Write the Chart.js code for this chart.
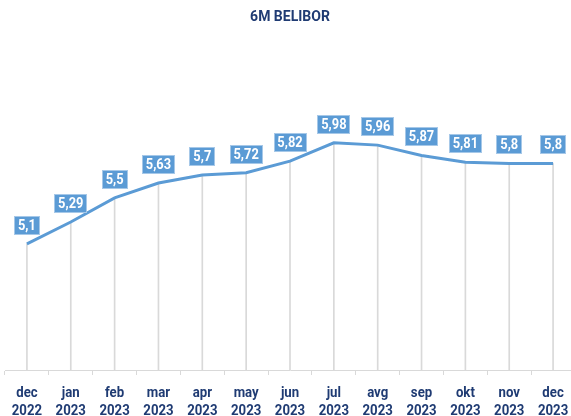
<!DOCTYPE html>
<html>
<head>
<meta charset="utf-8">
<script src="https://cdn.jsdelivr.net/npm/chart.js@4"></script>
<style>
html,body{margin:0;padding:0;overflow:hidden;background:#fff;}
canvas{display:block;}
</style>
</head>
<body>
<canvas id="c" width="576" height="416"></canvas>
<script>
const months = ['dec','jan','feb','mar','apr','may','jun','jul','avg','sep','okt','nov','dec'];
const years = ['2022','2023','2023','2023','2023','2023','2023','2023','2023','2023','2023','2023','2023'];
const belibor = [5.10,5.29,5.50,5.63,5.70,5.72,5.82,5.98,5.96,5.87,5.81,5.80,5.80];
const titleText = '6M BELIBOR';

const labels = months.map((m,i)=>[m, years[i]]);
const FONT = 'Roboto, "DejaVu Sans", sans-serif';
const NAVY = '#1f3b73';
const BLUE = '#5b9bd5';

function condensedText(ctx, txt, x, y, sx) {
  ctx.save();
  ctx.translate(x, y);
  ctx.scale(sx, 1);
  ctx.fillText(txt, 0, 0);
  ctx.restore();
}

const valueBoxes = {
  id: 'valueBoxes',
  afterDatasetsDraw(chart) {
    const meta = chart.getDatasetMeta(0);
    const ctx = chart.ctx;
    const SX = 0.92;
    ctx.save();
    ctx.font = 'bold 14px ' + FONT;
    ctx.textAlign = 'center';
    ctx.textBaseline = 'middle';
    meta.data.forEach((pt, i) => {
      const txt = String(belibor[i]).replace('.', ',');
      const w = Math.round(ctx.measureText(txt).width * SX + 8);
      const h = 19;
      const x = pt.x, yb = Math.round(pt.y - 9);
      const left = Math.round(x - w/2), top = yb - h;
      ctx.fillStyle = BLUE;
      ctx.fillRect(left, top, w, h);
      ctx.strokeStyle = '#a6c8e8';
      ctx.lineWidth = 1;
      ctx.strokeRect(left + 0.5, top + 0.5, w - 1, h - 1);
      ctx.fillStyle = '#ffffff';
      condensedText(ctx, txt, x, top + h/2 + 1, SX);
    });
    ctx.restore();
  }
};

const axisLabels = {
  id: 'axisLabels',
  afterDraw(chart) {
    const xs = chart.scales.x;
    const ctx = chart.ctx;
    ctx.save();
    ctx.font = 'bold 15px ' + FONT;
    ctx.fillStyle = NAVY;
    ctx.textAlign = 'center';
    ctx.textBaseline = 'alphabetic';
    xs.ticks.forEach((t, i) => {
      const x = xs.getPixelForTick(i);
      const lines = labels[i];
      condensedText(ctx, lines[0], x, xs.bottom + 22, 0.88);
      condensedText(ctx, lines[1], x, xs.bottom + 40, 0.88);
    });
    ctx.restore();
  }
};

new Chart(document.getElementById('c'), {
  type: 'bar',
  data: {
    labels: labels,
    datasets: [
      {
        type: 'line',
        data: belibor,
        borderColor: BLUE,
        borderWidth: 3,
        pointRadius: 0,
        tension: 0,
        fill: false,
        order: 0
      },
      {
        type: 'bar',
        data: belibor,
        backgroundColor: '#d9d9d9',
        barThickness: 1,
        order: 1
      }
    ]
  },
  options: {
    responsive: false,
    animation: false,
    layout: { padding: { left: 5, right: 1, top: 0, bottom: 41 } },
    plugins: {
      legend: { display: false },
      tooltip: { enabled: false },
      title: {
        display: true,
        text: titleText,
        color: NAVY,
        font: { family: FONT, size: 14, weight: 'bold' },
        padding: { top: 9, bottom: 0 }
      }
    },
    scales: {
      y: {
        display: false,
        min: 4,
        max: 7
      },
      x: {
        offset: true,
        grid: {
          offset: true,
          drawOnChartArea: false,
          drawTicks: true,
          tickLength: 5,
          color: '#d9d9d9'
        },
        border: { display: true, color: '#d9d9d9', width: 1 },
        ticks: {
          display: false,
          autoSkip: false
        }
      }
    }
  },
  plugins: [valueBoxes, axisLabels]
});
</script>
</body>
</html>
